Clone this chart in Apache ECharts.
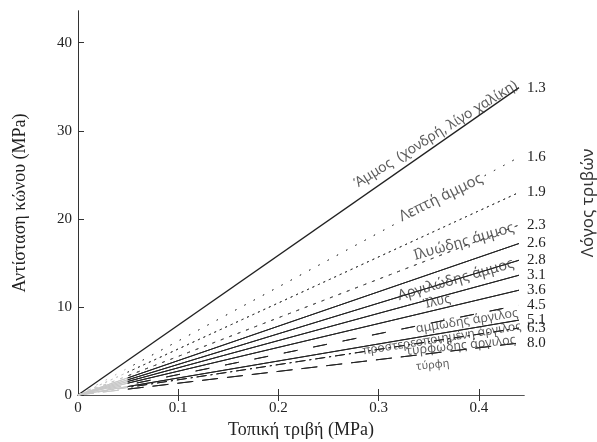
<!DOCTYPE html>
<html>
<head>
<meta charset="utf-8">
<script src="https://cdn.jsdelivr.net/npm/echarts@6/dist/echarts.min.js"></script>
<style>html,body{margin:0;padding:0;background:#fff}#c{width:597px;height:442px}</style>
</head>
<body>
<div id="c"></div>
<script>
// ---- data ----
const ratioLabels = ['1.3','1.6','1.9','2.3','2.6','2.8','3.1','3.6','4.5','5.1','6.3','8.0'];
const lineEndX = 0.44;
const lineEndValues = [34.9, 27.0, 23.0, 19.3, 17.2, 15.3, 13.6, 11.9, 10.2, 8.5, 7.6, 5.9];
const soilNames = ['Άμμος  (χονδρή, λίγο χαλίκη)', 'Λεπτή άμμος', 'Ιλυώδης άμμος', 'Αργιλώδης άμμος', 'Ίλυς', 'αμμώδης άργιλος', 'προστερεοποιημένη άργιλος', 'τυρφώδης άργιλος', 'τύρφη'];
const soilX = [0.357, 0.362, 0.385, 0.377, 0.358, 0.388, 0.363, 0.382, 0.354];
const soilY = [29.6, 22.4, 17.4, 13.1, 10.6, 8.4, 6.4, 5.6, 3.4];
const xTicks = [0, 0.1, 0.2, 0.3, 0.4];
const yTicks = [0, 10, 20, 30, 40];
const fadeEndX = 0.05;

// ---- styles ----
const soilAngles = [32, 26, 16, 16, 12, 9, 9, 6, 6];
const soilFont = [14, 15, 14.5, 14.5, 13, 12.5, 12, 12.5, 11];
const soilBg = [null, '#fff', null, null, null, null, null, null, null];
const lineTypes = ['solid', [1.5, 9], [2, 4], [3, 6], 'solid', 'solid', 'solid', 'solid', [14, 16], 'solid', [10, 4, 2, 4], [16, 9]];
const lineWidths = [1.3, 1, 1, 1, 1, 1, 1, 1, 1, 1, 1, 1];
const lineColors = ['#222', '#555', '#444', '#555', '#222', '#222', '#222', '#222', '#222', '#222', '#222', '#222'];
const serif = '"Liberation Serif", "DejaVu Serif", serif';
const sans = '"Noto Sans", "DejaVu Sans", sans-serif';

const chart = echarts.init(document.getElementById('c'), null, {renderer: 'canvas'});

function buildSeries(fadeStart) {
  const s = ratioLabels.map((r, i) => {
    let color = lineColors[i];
    if (i > 0 && fadeStart) {
      color = new echarts.graphic.LinearGradient(fadeStart[0], 0, fadeStart[1], 0, [
        {offset: 0, color: '#c8c8c8'},
        {offset: 0.98, color: '#c8c8c8'},
        {offset: 1, color: lineColors[i]}
      ], true);
    }
    return {
      type: 'line',
      xAxisIndex: 0, yAxisIndex: 0,
      data: [[0, 0], [lineEndX, lineEndValues[i]]],
      symbol: 'none',
      silent: true,
      clip: false,
      lineStyle: {color: color, width: lineWidths[i], type: lineTypes[i]},
      endLabel: {
        show: true, formatter: r, distance: 8, color: '#222',
        fontFamily: serif, fontSize: 15
      },
      z: 2
    };
  });
  s.push({
    type: 'scatter',
    symbolSize: 0,
    silent: true,
    data: soilNames.map((n, i) => ({
      value: [soilX[i], soilY[i]],
      name: n,
      label: {rotate: soilAngles[i], fontSize: soilFont[i], backgroundColor: soilBg[i] || 'transparent'}
    })),
    label: {
      show: true, position: 'inside', formatter: '{b}',
      color: '#333', fontFamily: sans, fontSize: 13, padding: [0, 1]
    },
    z: 5
  });
  return s;
}

chart.setOption({
  animation: false,
  backgroundColor: '#fff',
  grid: {left: 78, right: 73, top: 11, bottom: 47, containLabel: false, outerBoundsMode: 'none'},
  xAxis: [{
    type: 'value', min: 0, max: 0.445, interval: 0.1,
    name: 'Τοπική τριβή (MPa)', nameLocation: 'middle', nameGap: 21,
    nameTextStyle: {fontFamily: serif, fontSize: 18, color: '#222'},
    axisLine: {show: true, lineStyle: {color: '#333', width: 1}},
    axisTick: {show: true, inside: true, length: 6, customValues: xTicks, lineStyle: {color: '#333'}},
    axisLabel: {customValues: xTicks, fontFamily: serif, fontSize: 15, color: '#222', margin: 6},
    splitLine: {show: false}
  }, {
    type: 'value', position: 'top', min: 0, max: 0.445, interval: 0.1,
    axisLine: {show: true, lineStyle: {color: '#555', width: 1}},
    axisTick: {show: true, inside: true, length: 6, customValues: xTicks.slice(1), lineStyle: {color: '#333'}},
    axisLabel: {show: false},
    splitLine: {show: false}
  }],
  yAxis: [{
    type: 'value', min: 0, max: 43.6, interval: 10,
    name: 'Αντίσταση κώνου (MPa)', nameLocation: 'middle', nameGap: 49, nameRotate: 90,
    nameTextStyle: {fontFamily: serif, fontSize: 18, color: '#222'},
    axisLine: {show: true, lineStyle: {color: '#333', width: 1}},
    axisTick: {show: true, inside: true, length: 6, customValues: yTicks, lineStyle: {color: '#333'}},
    axisLabel: {customValues: yTicks, fontFamily: serif, fontSize: 15, color: '#222', margin: 6},
    splitLine: {show: false}
  }, {
    type: 'value', position: 'right', min: 0, max: 43.6, interval: 10,
    name: 'Λόγος τριβών', nameLocation: 'middle', nameGap: 56, nameRotate: 90,
    nameTextStyle: {fontFamily: sans, fontSize: 17, color: '#333'},
    axisLine: {show: true, lineStyle: {color: '#333', width: 1}},
    axisTick: {show: false},
    axisLabel: {show: false},
    splitLine: {show: false}
  }],
  series: buildSeries(null)
});

// grey fade near the origin (0 .. fadeEndX), computed through the axis scale
const p0 = chart.convertToPixel({xAxisIndex: 0}, 0);
const p1 = chart.convertToPixel({xAxisIndex: 0}, fadeEndX);
chart.setOption({series: buildSeries([p0, p1])});
</script>
</body>
</html>
